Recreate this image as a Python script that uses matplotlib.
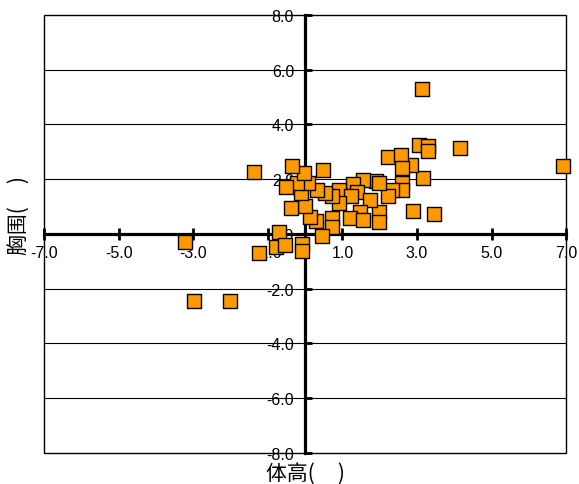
import matplotlib.pyplot as plt
from matplotlib.patches import Rectangle

plt.rcParams['font.family'] = ['Liberation Sans', 'Noto Sans CJK SC', 'DejaVu Sans']

# 体高 / 胸围 values
height = [6.90, 3.13, 4.15, 3.05, 3.29, 3.29, 3.45, 2.88, 3.15, 2.83,
          2.21, 2.56, 2.59, 2.59, 2.61, 2.32, 2.21, 1.99, 1.99, 1.91,
          1.54, 1.27, 1.40, 0.92, 1.24, 1.73, 0.92, 0.73, 1.46, 1.19,
          1.54, 0.73, 0.73, 0.46, 0.30, 0.13, 0.00, -0.38, 0.54, 0.32,
          -0.11, 0.08, -0.22, -0.51, -0.03, 0.49, -0.35, -1.37, -0.70, -0.78,
          -0.54, -1.24, -0.08, -0.08, -3.21, -2.99, -2.02, 1.99]
chest = [2.47, 5.28, 3.14, 3.25, 3.21, 3.03, 0.74, 0.85, 2.03, 2.51,
         2.80, 2.88, 2.40, 1.88, 1.62, 1.62, 1.40, 0.81, 0.44, 1.92,
         1.99, 1.81, 1.55, 1.59, 1.37, 1.25, 1.14, 1.37, 0.81, 0.59,
         0.52, 0.59, 0.26, -0.07, 0.48, 0.63, 1.03, 0.96, 1.51, 1.62,
         1.51, 1.88, 1.85, 1.70, 2.21, 2.32, 2.47, 2.25, 0.07, -0.48,
         -0.41, -0.70, -0.37, -0.63, -0.30, -2.44, -2.44, 1.85]

x_ticks = [-7, -5, -3, -1, 1, 3, 5, 7]
y_ticks = [-8, -6, -4, -2, 0, 2, 4, 6, 8]

fig = plt.figure(figsize=(5.79, 4.85), dpi=100)
ax = fig.add_axes([0.076, 0.064, 0.902, 0.903])

# horizontal grid
for yv in y_ticks:
    if yv not in (0, -8, 8):
        ax.axhline(yv, color='black', lw=0.8, zorder=1)

ax.scatter(height, chest, marker='s', s=90, c='#FF9900',
           edgecolors='black', linewidths=1, zorder=3, clip_on=False)

ax.set_xlim(-7, 7)
ax.set_ylim(-8, 8)

# axes through the origin
ax.spines['left'].set_position('zero')
ax.spines['bottom'].set_position('zero')
ax.spines['left'].set_linewidth(2.3)
ax.spines['bottom'].set_linewidth(2.3)
ax.spines['top'].set_visible(False)
ax.spines['right'].set_visible(False)

# outer frame
ax.add_patch(Rectangle((0, 0), 1, 1, transform=ax.transAxes, fill=False,
                       edgecolor='black', lw=1, zorder=2, clip_on=False))

ax.set_xticks(x_ticks)
ax.set_xticklabels([f'{v:.1f}' for v in x_ticks])
ax.set_yticks(y_ticks)
ax.set_yticklabels([f'{v:.1f}' for v in y_ticks])
ax.tick_params(axis='x', direction='inout', length=8, width=2, labelsize=11.5, pad=4)
ax.tick_params(axis='y', direction='in', length=5, width=2, labelsize=11.5, pad=8)

fig.text(0.527, 0.022, '体高(     )', ha='center', va='center', fontsize=15,
         family=['Noto Sans CJK SC', 'DejaVu Sans'])
fig.text(0.032, 0.555, '胸围(     )', ha='center', va='center', fontsize=15,
         rotation=90, family=['Noto Sans CJK SC', 'DejaVu Sans'])

fig.savefig('out.png', dpi=100, facecolor='white')
